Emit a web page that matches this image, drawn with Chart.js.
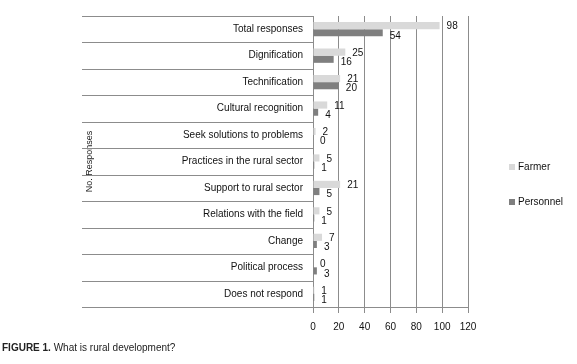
<!DOCTYPE html>
<html>
<head>
<meta charset="utf-8">
<script src="https://cdn.jsdelivr.net/npm/chart.js@4/dist/chart.umd.min.js"></script>
<style>
  html, body { margin:0; padding:0; background:#fff; }
  #wrap { position:relative; width:577px; height:364px; }
  #caption { position:absolute; left:2px; top:342px; font:10px 'Liberation Sans Narrow','Liberation Sans',sans-serif; color:#222; }
  #caption b { font-weight:bold; }
</style>
</head>
<body>
<div id="wrap">
  <canvas id="chart" width="577" height="364"></canvas>
  <div id="caption"><b>FIGURE 1.</b> What is rural development?</div>
</div>
<script>
const categories = ['Total responses','Dignification','Technification','Cultural recognition','Seek solutions to problems','Practices in the rural sector','Support to rural sector','Relations with the field','Change','Political process','Does not respond'];
const farmer = [98,25,21,11,2,5,21,5,7,0,1];
const personnel = [54,16,20,4,0,1,5,1,3,3,1];
const xTicks = [0,20,40,60,80,100,120];

const FONT = "'Liberation Sans Narrow','Liberation Sans',sans-serif";
const GRID = '#8c8c8c';

// separadores de categoria, etiquetas de valor y leyenda
const extras = {
  id:'extras',
  afterDraw(chart){
    const ctx = chart.ctx, y = chart.scales.y, area = chart.chartArea;
    const step = y.getPixelForValue(1) - y.getPixelForValue(0);
    ctx.save();
    ctx.strokeStyle = GRID; ctx.lineWidth = 1;
    for(let i=0;i<=categories.length;i++){
      const py = Math.round(y.getPixelForValue(i) - step/2) + 0.5;
      ctx.beginPath(); ctx.moveTo(82, py); ctx.lineTo(area.left, py); ctx.stroke();
    }
    ctx.font = '10px ' + FONT; ctx.fillStyle = '#111';
    ctx.textAlign = 'left'; ctx.textBaseline = 'middle';
    chart.data.datasets.forEach((ds, di) => {
      chart.getDatasetMeta(di).data.forEach((bar, i) => {
        ctx.fillText(ds.data[i], bar.x + 7, bar.y + (di === 0 ? 1 : 3));
      });
    });
    const leg = [[chart.data.datasets[0], 167], [chart.data.datasets[1], 202]];
    leg.forEach(([ds, ly]) => {
      ctx.fillStyle = ds.backgroundColor; ctx.fillRect(509, ly-3, 6, 6);
      ctx.fillStyle = '#111'; ctx.fillText(ds.label, 518, ly);
    });
    ctx.restore();
  }
};

new Chart(document.getElementById('chart').getContext('2d'), {
  type:'bar',
  data:{
    labels: categories,
    datasets:[
      { label:'Farmer', data: farmer, backgroundColor:'#d9d9d9' },
      { label:'Personnel', data: personnel, backgroundColor:'#7f7f7f' }
    ]
  },
  options:{
    indexAxis:'y',
    responsive:false,
    animation:false,
    layout:{ padding:{ top:16, right:109, left:0, bottom:0 } },
    datasets:{ bar:{ categoryPercentage:0.54, barPercentage:1 } },
    plugins:{ legend:{ display:false }, tooltip:{ enabled:false } },
    scales:{
      x:{
        min:0, max:120,
        afterBuildTicks(s){ s.ticks = xTicks.map(v => ({ value:v })); },
        afterFit(s){ s.height = 57; },
        grid:{ color:GRID, tickLength:6 },
        border:{ color:GRID },
        ticks:{ font:{ family:FONT, size:10 }, color:'#111', padding:8 }
      },
      y:{
        afterFit(s){ s.width = 313; },
        grid:{ display:false, drawTicks:false },
        border:{ color:GRID },
        ticks:{ font:{ family:FONT, size:10 }, color:'#111', padding:10 },
        title:{ display:true, text:'No. Responses', font:{ family:FONT, size:9 }, color:'#222', padding:{ top:84 } }
      }
    }
  },
  plugins:[extras]
});
</script>
</body>
</html>
